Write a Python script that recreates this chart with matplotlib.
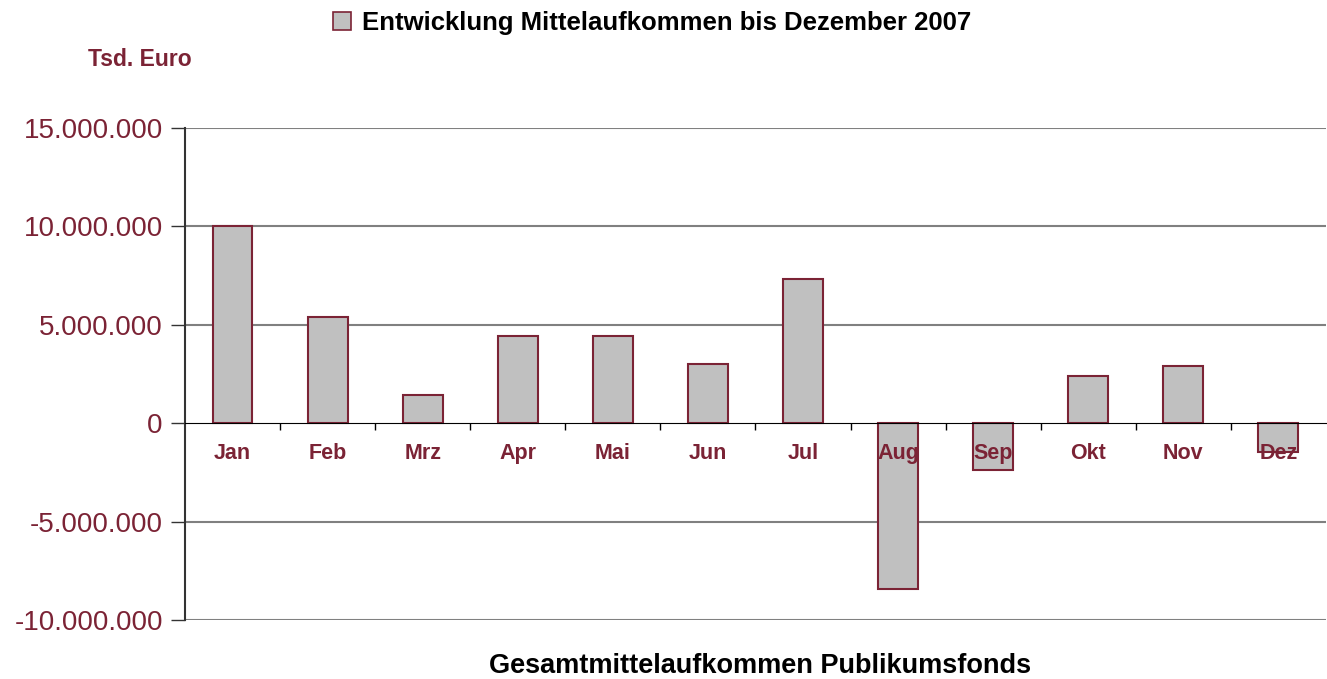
import matplotlib
matplotlib.use('Agg')
import matplotlib.pyplot as plt
from matplotlib.patches import Patch
from matplotlib.ticker import FuncFormatter
import numpy as np

plt.rcParams['font.family'] = ['Liberation Sans', 'DejaVu Sans']

MAROON = '#7B2335'
BAR_GREY = '#C0C0C0'
GRID = '#808080'

months = ['Jan', 'Feb', 'Mrz', 'Apr', 'Mai', 'Jun',
          'Jul', 'Aug', 'Sep', 'Okt', 'Nov', 'Dez']
values = [10000000, 5400000, 1430000, 4440000, 4440000, 3010000,
          7350000, -8420000, -2400000, 2400000, 2910000, -1480000]
y_ticks = [-10000000, -5000000, 0, 5000000, 10000000, 15000000]

fig = plt.figure(figsize=(13.27, 6.79), dpi=100)
ax = fig.add_axes([0.1394, 0.0869, 0.8598, 0.7246])

x = np.arange(len(months))
ax.bar(x, values, width=0.42, color=BAR_GREY, edgecolor=MAROON,
       linewidth=1.5, zorder=0.5)

ax.set_xlim(-0.5, len(months) - 0.5)
ax.set_ylim(y_ticks[0], y_ticks[-1])

# y axis
ax.set_yticks(y_ticks)
ax.yaxis.set_major_formatter(FuncFormatter(lambda v, p: f'{int(v):,}'.replace(',', '.')))
ax.tick_params(axis='y', direction='out', length=10, width=1, color='#333333',
               labelsize=20, labelcolor=MAROON, pad=6)
for v in y_ticks:
    if v != 0:
        ax.axhline(v, color=GRID, linewidth=1.5, zorder=0.3)

# x axis on zero line
ax.spines['bottom'].set_position(('data', 0))
ax.spines['bottom'].set_color('black')
ax.spines['left'].set_color('#333333')
ax.spines['left'].set_linewidth(1.5)
ax.spines['top'].set_visible(False)
ax.spines['right'].set_visible(False)

ax.set_xticks(x)
ax.set_xticklabels(months, fontsize=15.5, fontweight='bold', color=MAROON)
ax.tick_params(axis='x', which='major', length=0, pad=14)
ax.set_xticks(np.arange(0.5, len(months) - 1, 1.0), minor=True)
ax.tick_params(axis='x', which='minor', direction='out', length=5,
               width=1, color='black')

# texts
fig.text(88 / 1327, 1 - 60 / 679, 'Tsd. Euro', fontsize=16.5, fontweight='bold',
         color=MAROON, ha='left', va='center')
fig.text(760 / 1327, 1 - 666 / 679, 'Gesamtmittelaufkommen Publikumsfonds',
         fontsize=19.5, fontweight='bold', color='black', ha='center', va='center')

legend_handles = [Patch(facecolor=BAR_GREY, edgecolor=MAROON, linewidth=1.2,
                        label='Entwicklung Mittelaufkommen bis Dezember 2007')]
fig.legend(handles=legend_handles, loc='center', bbox_to_anchor=(652 / 1327, 1 - 23 / 679),
           frameon=False, prop={'size': 18.5, 'weight': 'bold'},
           handlelength=0.7, handleheight=0.7, handletextpad=0.4)

fig.savefig('out.png', dpi=100, facecolor='white')
